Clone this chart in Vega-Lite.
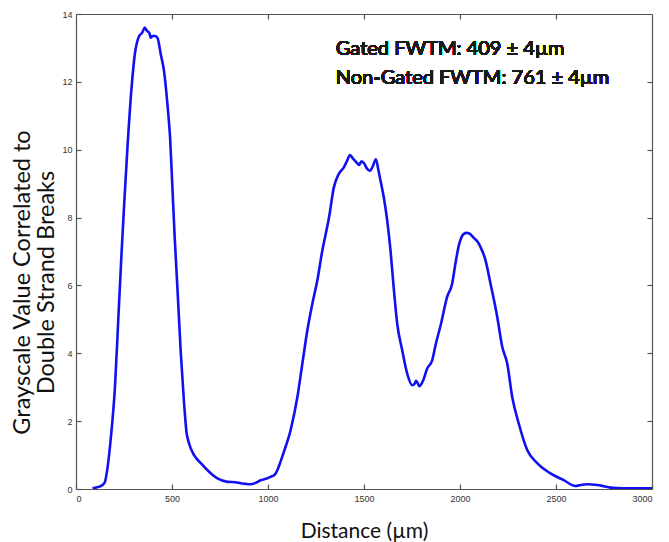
{
  "$schema": "https://vega.github.io/schema/vega-lite/v6.json",
  "autosize": "none",
  "width": 576,
  "height": 475,
  "padding": {"left": 76, "top": 14, "right": 17, "bottom": 53},
  "background": "white",
  "config": {
    "view": {"stroke": null},
    "axis": {"grid": false, "domain": true, "domainColor": "#555555", "domainWidth": 1.2, "tickColor": "#555555", "labelColor": "#333333", "labelFont": "Liberation Sans", "labelFontSize": 9, "tickWidth": 1.2, "format": "d"}
  },
  "datasets": {
    "profile": [
      {"d": 86, "v": 0.02}, {"d": 110, "v": 0.05}, {"d": 138, "v": 0.12}, {"d": 150, "v": 0.2},
      {"d": 165, "v": 0.66}, {"d": 182, "v": 1.54}, {"d": 203, "v": 3.01}, {"d": 220, "v": 4.97},
      {"d": 237, "v": 6.93}, {"d": 251, "v": 8.4}, {"d": 268, "v": 10.07}, {"d": 289, "v": 11.8},
      {"d": 306, "v": 12.8}, {"d": 329, "v": 13.35}, {"d": 345, "v": 13.45}, {"d": 358, "v": 13.6},
      {"d": 370, "v": 13.5}, {"d": 381, "v": 13.45}, {"d": 390, "v": 13.3}, {"d": 398, "v": 13.35},
      {"d": 410, "v": 13.35}, {"d": 424, "v": 13.3}, {"d": 442, "v": 12.8}, {"d": 459, "v": 12.3},
      {"d": 476, "v": 11.35}, {"d": 490, "v": 10.36}, {"d": 502, "v": 8.9}, {"d": 514, "v": 7.42},
      {"d": 528, "v": 5.95}, {"d": 546, "v": 3.99}, {"d": 563, "v": 2.52}, {"d": 575, "v": 1.7},
      {"d": 589, "v": 1.34}, {"d": 615, "v": 1.0}, {"d": 650, "v": 0.76}, {"d": 693, "v": 0.51},
      {"d": 737, "v": 0.31}, {"d": 789, "v": 0.21}, {"d": 830, "v": 0.2}, {"d": 858, "v": 0.17},
      {"d": 885, "v": 0.15}, {"d": 910, "v": 0.14}, {"d": 935, "v": 0.18}, {"d": 962, "v": 0.26},
      {"d": 990, "v": 0.3}, {"d": 1014, "v": 0.36}, {"d": 1035, "v": 0.42}, {"d": 1049, "v": 0.56},
      {"d": 1065, "v": 0.8}, {"d": 1083, "v": 1.1}, {"d": 1118, "v": 1.74}, {"d": 1153, "v": 2.71},
      {"d": 1179, "v": 3.7}, {"d": 1205, "v": 4.68}, {"d": 1231, "v": 5.46}, {"d": 1257, "v": 6.15},
      {"d": 1283, "v": 7.03}, {"d": 1300, "v": 7.5}, {"d": 1318, "v": 8.01}, {"d": 1343, "v": 8.89},
      {"d": 1369, "v": 9.29}, {"d": 1395, "v": 9.48}, {"d": 1410, "v": 9.65}, {"d": 1427, "v": 9.84},
      {"d": 1445, "v": 9.72}, {"d": 1465, "v": 9.6}, {"d": 1475, "v": 9.55}, {"d": 1487, "v": 9.66},
      {"d": 1500, "v": 9.6}, {"d": 1515, "v": 9.45}, {"d": 1529, "v": 9.38}, {"d": 1545, "v": 9.5},
      {"d": 1562, "v": 9.72}, {"d": 1575, "v": 9.4}, {"d": 1586, "v": 9.09}, {"d": 1603, "v": 8.6},
      {"d": 1621, "v": 7.91}, {"d": 1638, "v": 7.03}, {"d": 1656, "v": 5.85}, {"d": 1673, "v": 4.87},
      {"d": 1699, "v": 4.09}, {"d": 1725, "v": 3.4}, {"d": 1751, "v": 3.06}, {"d": 1763, "v": 3.1},
      {"d": 1772, "v": 3.19}, {"d": 1789, "v": 3.03}, {"d": 1808, "v": 3.2}, {"d": 1829, "v": 3.55},
      {"d": 1855, "v": 3.79}, {"d": 1875, "v": 4.3}, {"d": 1899, "v": 4.82}, {"d": 1933, "v": 5.66},
      {"d": 1959, "v": 6.05}, {"d": 1975, "v": 6.6}, {"d": 1994, "v": 7.18}, {"d": 2020, "v": 7.52},
      {"d": 2035, "v": 7.55}, {"d": 2046, "v": 7.54}, {"d": 2072, "v": 7.4}, {"d": 2090, "v": 7.3},
      {"d": 2107, "v": 7.13}, {"d": 2133, "v": 6.74}, {"d": 2159, "v": 6.05}, {"d": 2194, "v": 5.07},
      {"d": 2220, "v": 4.19}, {"d": 2246, "v": 3.7}, {"d": 2272, "v": 2.71}, {"d": 2306, "v": 1.93},
      {"d": 2350, "v": 1.15}, {"d": 2402, "v": 0.76}, {"d": 2471, "v": 0.46}, {"d": 2540, "v": 0.26},
      {"d": 2601, "v": 0.09}, {"d": 2630, "v": 0.12}, {"d": 2662, "v": 0.14}, {"d": 2714, "v": 0.12},
      {"d": 2750, "v": 0.08}, {"d": 2783, "v": 0.04}, {"d": 2850, "v": 0.02}, {"d": 2950, "v": 0.02},
      {"d": 3000, "v": 0.02}
    ]
  },
  "data": {"name": "profile"},
  "resolve": {"axis": {"x": "independent", "y": "independent"}},
  "layer": [
    {
      "mark": {"type": "line", "color": "#1010F0", "strokeWidth": 2.6, "clip": true, "interpolate": "monotone"},
      "encoding": {
        "x": {"field": "d", "type": "quantitative", "scale": {"domain": [0, 3000], "nice": false},
          "axis": {"orient": "bottom", "values": [0, 500, 1000, 1500, 2000, 2500, 3000], "ticks": true, "tickSize": -5, "labelPadding": 10,
            "title": "Distance (µm)", "titleFont": "Lato", "titleFontSize": 21, "titleFontWeight": "normal", "titleColor": "#111111", "titlePadding": 17}},
        "y": {"field": "v", "type": "quantitative", "scale": {"domain": [0, 14], "nice": false},
          "axis": {"orient": "left", "values": [0, 2, 4, 6, 8, 10, 12, 14], "ticks": true, "tickSize": -5, "labelPadding": 9,
            "title": ["Grayscale Value Correlated to", "Double Strand Breaks"], "titleFont": "Lato", "titleFontSize": 23.5, "titleFontWeight": "normal", "titleColor": "#111111", "titleLineHeight": 24, "titleY": 268, "titleX": -54, "titleBaseline": "middle", "titleAnchor": null}}
      }
    },
    {
      "mark": {"type": "text", "align": "left", "baseline": "middle", "font": "Lato", "fontSize": 20, "fontWeight": 400, "lineHeight": 29, "fill": "#1a1a1a",
        "text": ["Gated FWTM: 409 ± 4µm", "Non-Gated FWTM: 761 ± 4µm"]},
      "encoding": {
        "x": {"datum": 1353, "type": "quantitative", "axis": {"orient": "top", "tickSize": -5, "values": [500, 1000, 1500, 2000, 2500], "labels": false, "title": null}},
        "y": {"datum": 12.97, "type": "quantitative", "axis": {"orient": "right", "tickSize": -5, "values": [2, 4, 6, 8, 10, 12], "labels": false, "title": null}}
      }
    }
  ]
}
